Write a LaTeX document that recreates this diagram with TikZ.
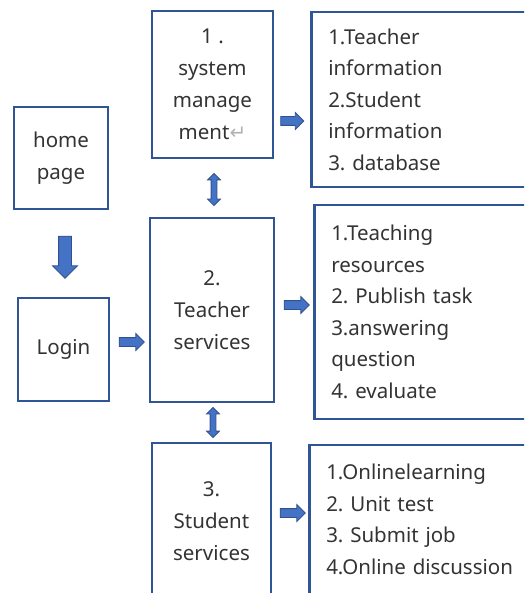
\documentclass[tikz,border=0pt]{standalone}
\usepackage{fontspec}
\setmainfont{Noto Sans}
\newfontfamily\symfont{DejaVu Sans}
\usetikzlibrary{shapes.arrows}
\frenchspacing
\definecolor{boxblue}{RGB}{47,85,151}
\definecolor{arrowfill}{RGB}{68,114,196}
\definecolor{arrowline}{RGB}{47,82,143}
\definecolor{textgray}{RGB}{51,51,51}
\tikzset{
  box/.style={draw=boxblue, line width=2.5pt, text=textgray, align=center,
    inner sep=0pt, font=\fontsize{20.5}{32}\selectfont},
  listbox/.style={box, anchor=west, align=left, inner xsep=17pt,
    text width=196pt, minimum width=230pt, font=\fontsize{20.5}{31.5}\selectfont},
  blockarrow/.style={single arrow, draw=arrowline, fill=arrowfill, line width=0.8pt,
    inner xsep=0pt, inner ysep=4pt, single arrow head extend=4pt},
  bothways/.style={double arrow, draw=arrowline, fill=arrowfill, line width=0.8pt,
    inner xsep=0pt, inner ysep=2.5pt, double arrow head extend=3.5pt}
}
\newcommand*{\BlockArrows}[1]{% #1 = list of name/x/y/rotation/length
  \foreach \arr/\x/\y/\rot/\len in {#1} {
    \node [blockarrow, rotate=\rot, minimum height=\len] (\arr) at (\x,\y) {};
  }%
}
\begin{document}
\begin{tikzpicture}[x=1pt, y=-1pt]
  \useasboundingbox (0,0) rectangle (524,593);
  \clip (0,0) rectangle (524,593);
  \node [box, minimum width=94pt, minimum height=102pt] (home) at (61,158) {home\\page};
  \node [box, minimum width=91pt, minimum height=103pt] (login) at (63.5,349.5) {Login};
  \node [box, minimum width=121pt, minimum height=147pt] (sys) at (212.5,84.5)
    {1 .\\system\\manage\\ment{\symfont\fontsize{20}{20}\selectfont\color{gray!60}↵}};
  \node [box, minimum width=124pt, minimum height=184pt] (teach) at (212,310) {2.\\Teacher\\services};
  \node [box, minimum width=119pt, minimum height=156pt] (stud) at (211.5,521) {3.\\Student\\services};
  \node [listbox, minimum height=175pt] (sysr) at (310,99.5)
    {1.Teacher\\information\\2.Student\\information\\3. database};
  \node [listbox, minimum height=214pt] (teachr) at (313,312)
    {1.Teaching\\resources\\2. Publish task\\3.answering\\question\\4. evaluate};
  \node [listbox, minimum height=149pt] (studr) at (308,519.5)
    {1.Onlinelearning\\2. Unit test\\3. Submit job\\4.Online discussion};
  \BlockArrows{a1/290/121/0/23, a3/129.5/342/0/25, a4/294.5/305/0/25, a5/290.5/513/0/25}
  \node [blockarrow, rotate=-90, minimum height=42pt, inner ysep=6pt,
    single arrow head extend=6pt] (a2) at (65,254) {};
  \node [bothways, rotate=90, minimum height=32pt] (d1) at (214,189.5) {};
  \node [bothways, rotate=90, minimum height=30pt] (d2) at (213,422.5) {};
\end{tikzpicture}
\end{document}
